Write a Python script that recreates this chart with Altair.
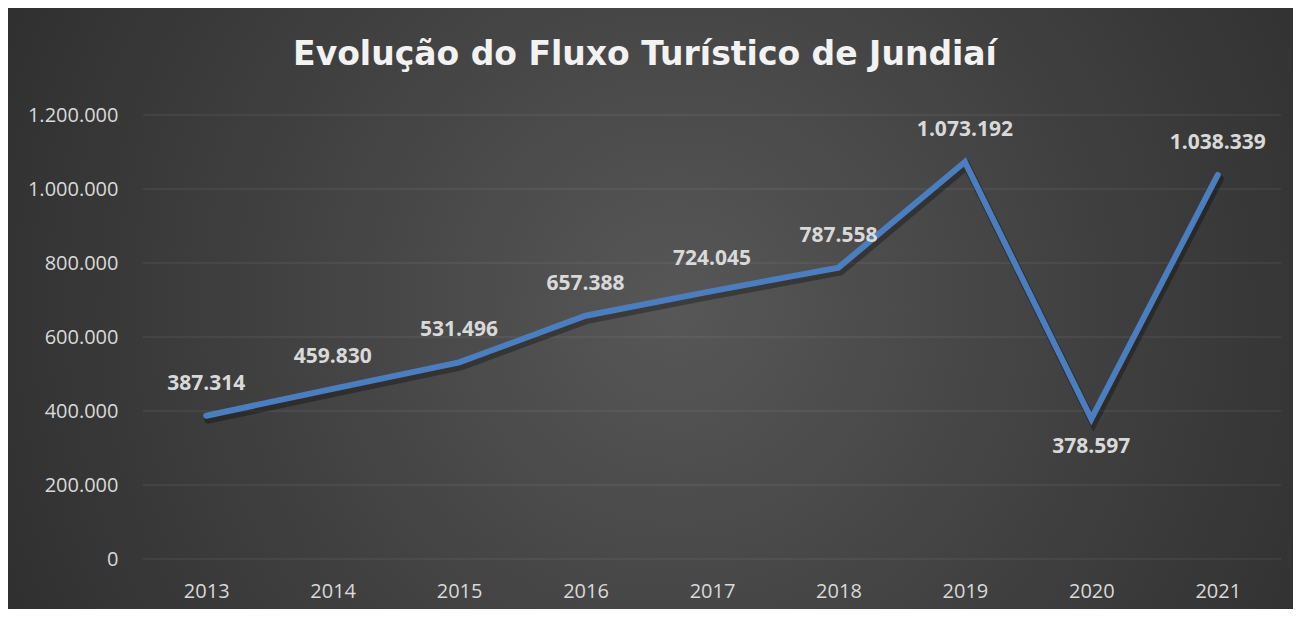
import altair as alt
import pandas as pd

years = ["2013", "2014", "2015", "2016", "2017", "2018", "2019", "2020", "2021"]
visitors = [387314, 459830, 531496, 657388, 724045, 787558, 1073192, 378597, 1038339]
label_pos = ["above", "above", "above", "above", "above", "above", "above", "below", "above"]
y_ticks = [0, 200000, 400000, 600000, 800000, 1000000, 1200000]
title_text = ["Evolução do Fluxo Turístico de Jundiaí"]

W, H = 1138, 444
PL, PT, PR, PB = 135, 107, 12, 50

df = pd.DataFrame({"year": years, "visitors": visitors, "pos": label_pos})
df["label"] = [f"{v:,}".replace(",", ".") for v in visitors]
grid_df = pd.DataFrame({"visitors": y_ticks})
bg_df = pd.DataFrame({"a": [0]})
title_df = pd.DataFrame({"t": title_text})

LABEL_COLOR = "#d9d9d9"

x_enc = alt.X(
    "year:O",
    scale=alt.Scale(type="point", padding=0.5),
    axis=alt.Axis(title=None, labelAngle=0, domain=False, ticks=False, tickSize=0,
                  grid=False, labelPadding=22, labelFont="Open Sans", labelFontSize=20,
                  labelColor=LABEL_COLOR, zindex=1),
)
y_enc = alt.Y(
    "visitors:Q",
    scale=alt.Scale(domain=[0, 1200000], nice=False),
    axis=alt.Axis(title=None, values=y_ticks, domain=False, ticks=False, tickSize=0,
                  grid=False, labelPadding=25, labelFont="Open Sans", labelFontSize=20,
                  labelColor=LABEL_COLOR, zindex=1,
                  labelExpr="replace(format(datum.value, ','), regexp(',', 'g'), '.')"),
)

bg = alt.Chart(bg_df).mark_rect(
    clip=False,
    fill=alt.RadialGradient(
        gradient="radial",
        x1=0.52, y1=0.5, r1=0.0,
        x2=0.52, y2=0.5, r2=0.72,
        stops=[
            alt.GradientStop(color="#575757", offset=0.0),
            alt.GradientStop(color="#404040", offset=0.45),
            alt.GradientStop(color="#262626", offset=1.0),
        ],
    ),
).encode(
    x=alt.value(-PL), x2=alt.value(W + PR),
    y=alt.value(-PT), y2=alt.value(H + PB),
)

grid = alt.Chart(grid_df).mark_rule(color="white", opacity=0.1, strokeWidth=1).encode(y=y_enc)

base = alt.Chart(df)

shadow = base.mark_line(color="black", opacity=0.3, strokeWidth=8, xOffset=2, yOffset=4,
                        strokeJoin="miter", strokeCap="round").encode(x=x_enc, y=y_enc)
line = base.mark_line(color="#4a7ebf", strokeWidth=6, strokeJoin="miter",
                      strokeCap="round").encode(x=x_enc, y=y_enc)

text_above = base.mark_text(dy=-32, font="Open Sans", fontWeight="bold", fontSize=21,
                            color=LABEL_COLOR, baseline="middle").encode(
    x=x_enc, y=y_enc, text="label:N"
).transform_filter(alt.datum.pos == "above")

text_below = base.mark_text(dy=28, font="Open Sans", fontWeight="bold", fontSize=21,
                            color=LABEL_COLOR, baseline="middle").encode(
    x=x_enc, y=y_enc, text="label:N"
).transform_filter(alt.datum.pos == "below")

title = alt.Chart(title_df).mark_text(
    font="DejaVu Sans", fontSize=33, fontWeight="bold", color="#f2f2f2",
    align="center", baseline="alphabetic",
).encode(x=alt.value(502), y=alt.value(-50), text="t:N")

chart = alt.layer(bg, grid, shadow, line, text_above, text_below, title).properties(
    width=W,
    height=H,
    padding={"left": PL, "top": PT, "right": PR, "bottom": PB},
    autosize=alt.AutoSizeParams(type="none"),
    background="#2b2b2b",
).configure_view(stroke=None)

chart.save("out.html", embed_options={"renderer": "svg", "actions": False})
